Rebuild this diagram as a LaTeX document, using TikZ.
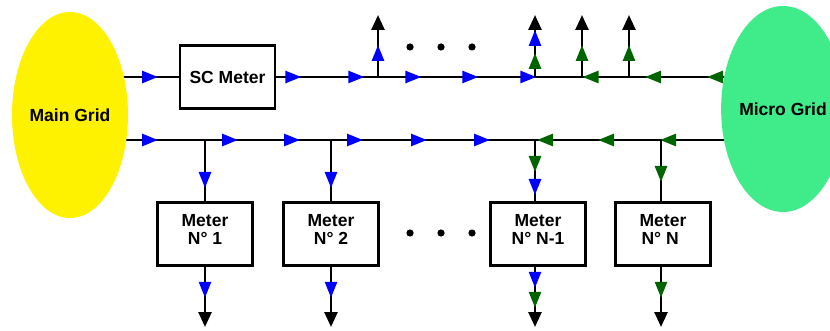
\documentclass[tikz,border=0pt]{standalone}
\usepackage{fontspec}
\setmainfont{Liberation Sans}
\usetikzlibrary{shapes.geometric, arrows.meta, decorations.markings, backgrounds}

\definecolor{flowgreen}{RGB}{0,100,0}
\definecolor{microgreen}{RGB}{64,235,138}

\tikzset{
	tipb/.style={postaction={decorate,decoration={markings,mark=at position #1 with {\arrow[blue]{Triangle[length=16pt,width=12pt]}}}}},
	tipg/.style={postaction={decorate,decoration={markings,mark=at position #1 with {\arrow[flowgreen]{Triangle[length=16pt,width=12pt]}}}}},
	meter/.style={draw, fill=white, line width=2.6pt, minimum width=95pt, minimum height=63pt, align=center},
	meterN/.style={meter, text depth=9pt},
	gridnode/.style={ellipse, minimum width=116pt, minimum height=206pt, inner sep=0pt},
	wire/.style={line width=2.6pt},
	exitwire/.style={wire, -{Triangle[length=15pt,width=13pt]}},
}

\begin{document}
\begin{tikzpicture}[x=1pt, y=-1pt, font=\fontsize{17.5}{18}\selectfont\bfseries]
	\clip (0,0) rectangle (830,331);
	
	\coordinate (j1) at (378,77);
	\coordinate (j2) at (535,77);
	\coordinate (j3) at (582,77);
	\coordinate (j4) at (629,77);
	\coordinate (t1) at (378,15);
	\coordinate (t2) at (535,15);
	\coordinate (t3) at (582,15);
	\coordinate (t4) at (629,15);
	
	\coordinate (b1) at (205,140);
	\coordinate (b2) at (331,140);
	\coordinate (b3) at (535,140);
	\coordinate (b4) at (661,140);
	\coordinate (o1) at (205,327);
	\coordinate (o2) at (331,327);
	\coordinate (o3) at (535,327);
	\coordinate (o4) at (661,327);
	
	\node[gridnode, fill=yellow] (main) at (70,115) {Main Grid};
	\node[gridnode, fill=microgreen] (micro) at (783,109) {Micro Grid};
	
	\node[meter] (sc) at (227.5,77) {SC Meter};
	\node[meterN] (m1) at (205,234) {Meter\\N° 1};
	\node[meterN] (m2) at (331,234) {Meter\\N° 2};
	\node[meterN] (m3) at (538,234) {Meter\\N° N-1};
	\node[meterN] (m4) at (663,234) {Meter\\N° N\phantom{-}};
	
	\foreach \x in {410,441,472} {
		\fill (\x,47) circle (3.6pt);
		\fill (\x,233) circle (3.6pt);
	}
	
	\begin{scope}[on background layer]
		% upper feeder through the SC meter
		\draw[wire, tipb=88pt] (sc.west -| main) -- (sc.west);
		\draw[wire, tipb=25pt, tipb=88pt, tipb=145pt, tipb=202pt, tipb=260pt] (sc.east) -- (j3);
		\draw[wire, tipg=76pt, tipg=138pt, tipg=200.5pt] (j4 -| micro) -- (j3);
		
		% lower feeder
		\draw[wire, tipb=88pt, tipb=168pt, tipb=230pt, tipb=293pt, tipb=357pt, tipb=420pt] (b1 -| main) -- (b3);
		\draw[wire, tipg=123pt, tipg=185pt, tipg=246pt] (b4 -| micro) -- (b3);
	\end{scope}
	
	\draw[exitwire, tipb=32pt] (j1) -- (t1);
	\draw[exitwire, tipg=24pt, tipb=47pt] (j2) -- (t2);
	\draw[exitwire, tipg=32pt] (j3) -- (t3);
	\draw[exitwire, tipg=32pt] (j4) -- (t4);
	
	\draw[wire, tipb=48pt] (b1) -- (b1 |- m1.north);
	\draw[wire, tipb=48pt] (b2) -- (b2 |- m2.north);
	\draw[wire, tipg=32pt, tipb=55pt] (b3) -- (b3 |- m3.north);
	\draw[wire, tipg=42pt] (b4) -- (b4 |- m4.north);
	
	\draw[exitwire, tipb=31pt] (b1 |- m1.south) -- (o1);
	\draw[exitwire, tipb=31pt] (b2 |- m2.south) -- (o2);
	\draw[exitwire, tipb=21pt, tipg=41pt] (b3 |- m3.south) -- (o3);
	\draw[exitwire, tipg=31pt] (b4 |- m4.south) -- (o4);
\end{tikzpicture}
\end{document}
